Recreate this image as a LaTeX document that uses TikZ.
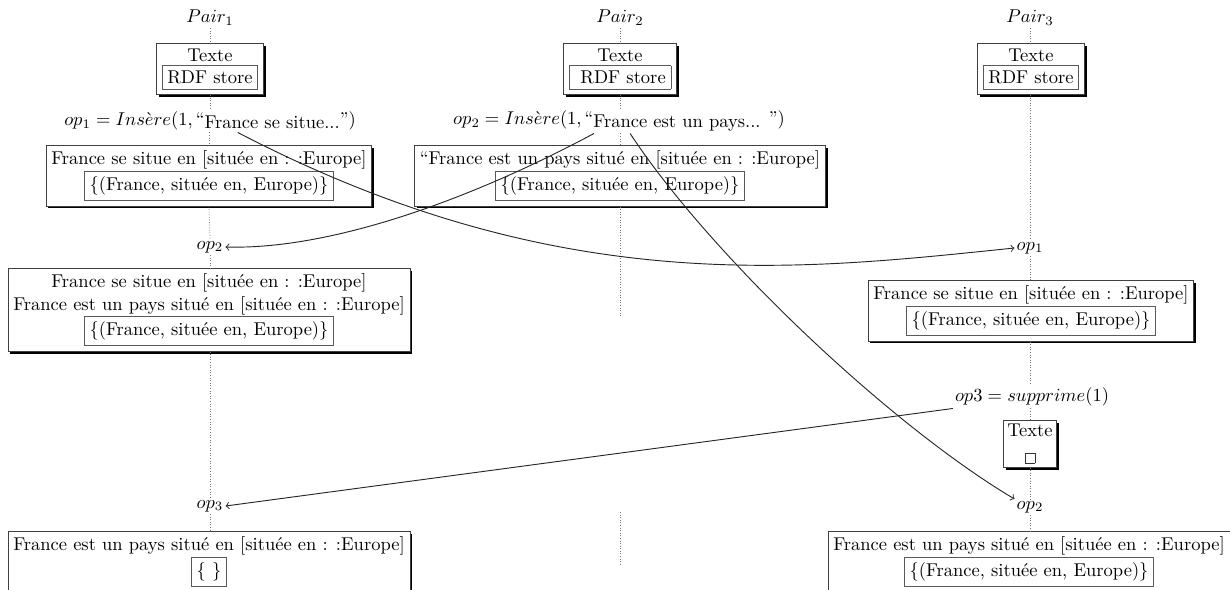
\documentclass[tikz,border=0pt]{standalone}
\usetikzlibrary{shadows,calc}
\newcommand{\ibox}[1]{{\setlength{\fboxsep}{2.6pt}\setlength{\fboxrule}{0.4pt}\fcolorbox{black!65}{white}{#1}}}
\newcommand{\sqbox}{{\setlength{\fboxsep}{0pt}\setlength{\fboxrule}{0.4pt}\fcolorbox{black!80}{white}{\rule{0pt}{5pt}\hspace{5pt}}}}
\tikzset{
  outerbox/.style={draw=black!75, line width=0.4pt, fill=white, align=center, inner sep=2.8pt,
    drop shadow={shadow xshift=1.2pt, shadow yshift=-1.2pt, fill=black, opacity=1}},
  lbl/.style={inner sep=1pt},
  life/.style={densely dotted, black!55, line width=0.4pt},
  msg/.style={->, line width=0.5pt, black!85},
}
\begin{document}
\begin{tikzpicture}[x=0.54pt,y=-0.54pt]
\clip (0,0) rectangle (1230,589);
% pair labels
\node[lbl] (P1) at (210,18) {$Pair_1$};
\node[lbl] (P2) at (620,18) {$Pair_2$};
\node[lbl] (P3) at (1030,18) {$Pair_3$};
% top boxes
\node[outerbox] (t1) at (210,69) {Texte\\\ibox{RDF store}};
\node[outerbox] (t2) at (620,69) {Texte\\\ibox{\ RDF store}};
\node[outerbox] (t3) at (1031,69) {Texte\\\ibox{RDF store}};
% operation labels
\node[lbl] (op1lbl) at (210,121) {$op_1 = Ins\grave{e}re(1,\,$“\raisebox{-1.5pt}{France se situe...}”$)$};
\node[lbl] (op2lbl) at (619,121) {$op_2 = Ins\grave{e}re(1,\,$“\raisebox{-1.5pt}{France est un pays... }”$)$};
% first states
\node[outerbox] (s1a) at (209,176) {France se situe en [située en : :Europe]\\\ibox{\{(France, située en, Europe)\}}};
\node[outerbox] (s2a) at (620,176) {“France est un pays situé en [située en : :Europe]\\\ibox{\{(France, située en, Europe)\}}};
% receptions
\node[lbl] (op2a) at (210,247) {$op_2$};
\node[lbl] (op1b) at (1030,248) {$op_1$};
\node[outerbox] (s1b) at (209,310) {France se situe en [située en : :Europe]\\France est un pays situé en [située en : :Europe]\\\ibox{\{(France, située en, Europe)\}}};
\node[outerbox] (s3b) at (1031,311) {France se situe en [située en : :Europe]\\\ibox{\{(France, située en, Europe)\}}};
\node[lbl] (op3lbl) at (1032,397) {$op3 = supprime(1)$};
\node[outerbox, inner sep=2pt] (sq) at (1030,444) {Texte\\[2pt]\sqbox};
\node[lbl] (op3a) at (210,506) {$op_3$};
\node[lbl] (op2b) at (1030,507) {$op_2$};
\node[outerbox, anchor=north] (s1c) at (209,531) {France est un pays situé en [située en : :Europe]\\\ibox{\{\ \}}};
\node[outerbox, anchor=north] (s3c) at (1029,531) {France est un pays situé en [située en : :Europe]\\\ibox{\{(France, située en, Europe)\}}};
% lifelines
\draw[life] (P1.south) -- (t1.north);
\draw[life] (t1.south) -- (t1.south |- op1lbl.north);
\draw[life] (s1a.north |- op1lbl.south) -- (s1a.north);
\draw[life] (s1a.south) -- (op2a.north);
\draw[life] (op2a.south) -- (s1b.north -| op2a.south);
\draw[life] (s1b.south -| op3a.north) -- (op3a.north);
\draw[life] (op3a.south) -- (s1c.north -| op3a.south);
\draw[life] (P2.south) -- (t2.north);
\draw[life] (t2.south) -- (t2.south |- op2lbl.north);
\draw[life] (s2a.north |- op2lbl.south) -- (s2a.north);
\coordinate (p2a) at (620,316);
\coordinate (p2b) at (620,512);
\coordinate (p2c) at (620,565);
\draw[life] (s2a.south) -- (p2a);
\draw[life] (p2b) -- (p2c);
\draw[life] (P3.south) -- (P3.south |- t3.north);
\draw[life] (op1b.south |- t3.south) -- (op1b.north);
\draw[life] (op1b.south) -- (op1b.south |- s3b.north);
\draw[life] (op1b.south |- s3b.south) -- (op1b.south |- op3lbl.north);
\draw[life] (op1b.south |- op3lbl.south) -- (op1b.south |- sq.north);
\draw[life] (sq.south) -- (op2b.north);
\draw[life] (op2b.south) -- (op2b.south |- s3c.north);
% messages
\draw[msg] ([xshift=15pt]op1lbl.south) .. controls (560,300) and (800,270) .. (op1b.west);
\draw[msg] ([xshift=-13.5pt]op2lbl.south) .. controls (470,200) and (330,250) .. (op2a.east);
\draw[msg] ([xshift=6pt]op2lbl.south) .. controls (710,255) and (890,425) .. (op2b.north west);
\draw[msg] (op3lbl.south west) -- (op3a.east);
\end{tikzpicture}
\end{document}
